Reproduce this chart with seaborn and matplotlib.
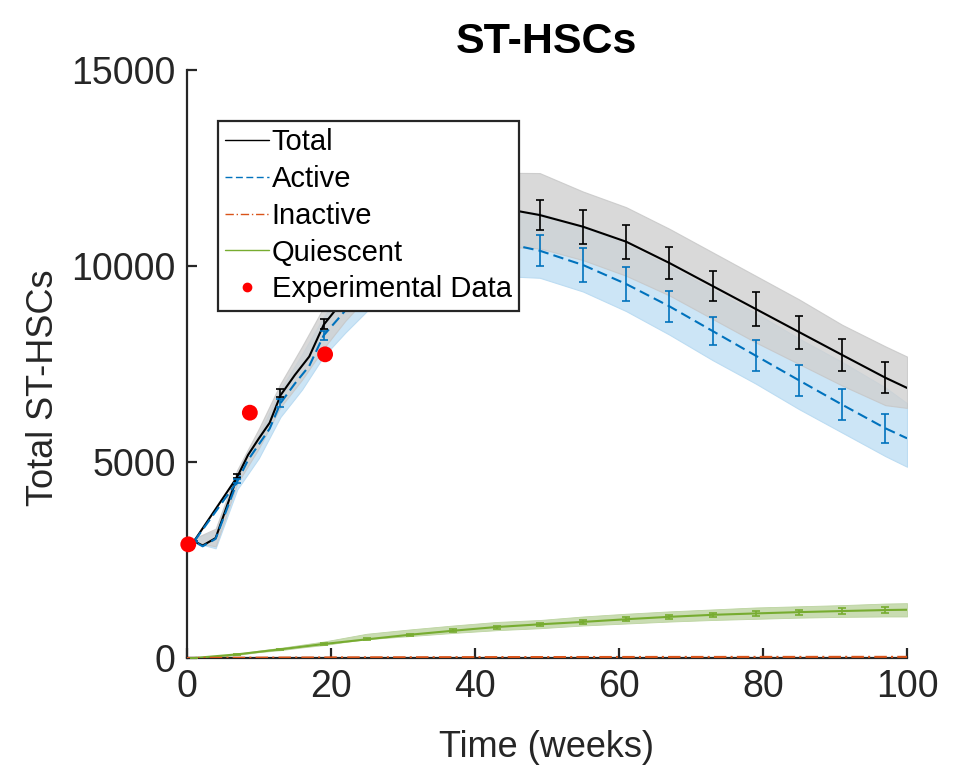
import numpy as np
import matplotlib
matplotlib.use("Agg")
import matplotlib.pyplot as plt
import seaborn as sns
from matplotlib.lines import Line2D

# mean trajectories (the first points trace the little loop at the start)
t_mean = [7, 1, 2.2, 4, 7, 8.5, 10, 11.5, 13, 15, 17, 19, 21, 25, 31, 37, 43, 46,
          49, 55, 61, 67, 73, 79, 85, 91, 97, 100]
total_mean = [4620, 2980, 2870, 3060, 4620, 5180, 5600, 6000, 6700, 7220, 7690, 8500,
              8960, 9900, 10750, 11200, 11420, 11400, 11300, 11003, 10620, 10077,
              9490, 8903, 8316, 7730, 7150, 6890]
active_mean = [4500, 2970, 2850, 3040, 4500, 5050, 5450, 5850, 6500, 7000, 7450, 8230,
               8650, 9500, 10150, 10500, 10580, 10510, 10390, 10026, 9541, 8972,
               8342, 7712, 7084, 6462, 5860, 5605]

# smooth curves for the small compartments
t_small = [0, 1, 7, 13, 19, 25, 31, 37, 43, 49, 55, 61, 67, 73, 79, 85, 91, 97, 100]
quiescent_mean = [0, 0, 94, 222, 357, 477, 595, 697, 791, 860, 921, 990, 1051, 1102,
                  1138, 1171, 1199, 1224, 1232]
inactive_mean = [0, 2, 8, 12, 15, 18, 20, 22, 24, 25, 26, 27, 28, 28, 29, 29, 30, 30, 30]

# spread of the simulated runs
t_band = [1, 4, 7, 10, 13, 16, 19, 22, 25, 31, 37, 43, 49, 55, 61, 67, 73, 79, 85,
          91, 97, 100]
total_upper = [3050, 3300, 4800, 5850, 7000, 7950, 8950, 9900, 10700, 11700, 12200,
               12380, 12370, 11900, 11500, 10950, 10350, 9750, 9150, 8500, 7950, 7690]
total_lower = [2950, 2850, 4450, 5350, 6400, 7100, 7900, 8600, 9200, 9900, 10300,
               10500, 10450, 10150, 9750, 9250, 8650, 8050, 7500, 6950, 6450, 6380]
active_upper = [3050, 3250, 4700, 5700, 6850, 7750, 8700, 9500, 10300, 11100, 11400,
                11450, 11350, 11000, 10550, 10000, 9400, 8800, 8150, 7550, 6900, 6500]
active_lower = [2950, 2800, 4300, 5100, 6150, 6850, 7700, 8300, 8850, 9350, 9650,
                9750, 9700, 9350, 8850, 8250, 7600, 7000, 6350, 5750, 5150, 4880]
quiescent_upper = [0, 45, 110, 190, 260, 340, 420, 520, 620, 730, 830, 920, 970, 1060,
                   1130, 1190, 1240, 1290, 1320, 1350, 1390, 1400]
quiescent_lower = [0, 25, 80, 150, 200, 270, 330, 410, 480, 560, 640, 710, 760, 830,
                   880, 930, 970, 1000, 1030, 1050, 1060, 1060]

# error bars every 6 weeks
t_err = [1, 7, 13, 19, 25, 31, 37, 43, 49, 55, 61, 67, 73, 79, 85, 91, 97]
total_err = [2980, 4640, 6760, 8530, 9900, 10750, 11200, 11420, 11300, 11003, 10620,
             10077, 9490, 8903, 8316, 7730, 7150]
total_sd = [15, 60, 100, 130, 200, 260, 320, 370, 391, 438, 434, 417, 387, 421, 421,
            417, 395]
active_err = [2970, 4520, 6505, 8230, 9500, 10150, 10500, 10580, 10390, 10026, 9541,
              8972, 8342, 7712, 7084, 6462, 5860]
active_sd = [15, 55, 110, 120, 200, 260, 320, 370, 391, 430, 425, 400, 366, 391, 400,
             391, 366]
quiescent_err = [0, 94, 222, 357, 477, 595, 697, 791, 860, 921, 990, 1051, 1102, 1138,
                 1171, 1199, 1224]
quiescent_sd = [0, 10, 15, 20, 25, 30, 35, 38, 40, 45, 50, 55, 58, 60, 62, 65, 69]

# experimental data
t_exp = [0.2, 8.75, 19.2]
exp_vals = [2900, 6258, 7747]

c_total = "black"
c_active = "#0072BD"
c_inactive = "#D95319"
c_quiescent = "#77AC30"

sns.set_style("ticks")
plt.rcParams["font.family"] = ["Liberation Sans", "DejaVu Sans"]

fig = plt.figure(figsize=(9.68, 7.69), dpi=100)
ax = fig.add_axes([0.193, 0.1443, 0.744, 0.7647])

# run spreads
ax.fill_between(t_band, active_lower, active_upper, color="#cce5f6", lw=0.8,
                edgecolor="#bcdcf2", zorder=1)
ax.fill_between(t_band, total_lower, total_upper, color="#d0d0d0", alpha=0.8, lw=0.8,
                edgecolor="#c6c6c6", zorder=2)
ax.fill_between(t_band, quiescent_lower, quiescent_upper, color="#c9dcb2", lw=0.6,
                edgecolor="#bcd4a0", zorder=1)

# means
sns.lineplot(x=t_mean, y=total_mean, sort=False, estimator=None, color=c_total,
             lw=1.5, ax=ax, zorder=5)
sns.lineplot(x=t_mean, y=active_mean, sort=False, estimator=None, color=c_active,
             lw=1.5, ax=ax, zorder=5)
ax.lines[-1].set_dashes((5, 2.5))
sns.lineplot(x=t_small, y=quiescent_mean, sort=False, estimator=None,
             color=c_quiescent, lw=1.5, ax=ax, zorder=5)
sns.lineplot(x=t_small, y=inactive_mean, sort=False, estimator=None,
             color=c_inactive, lw=1.5, ax=ax, zorder=5)
ax.lines[-1].set_dashes((6, 2, 1, 2))

# error bars
for mu, sd, col in [(total_err, total_sd, c_total), (active_err, active_sd, c_active),
                    (quiescent_err, quiescent_sd, c_quiescent)]:
    ax.errorbar(t_err, mu, yerr=sd, fmt="none", ecolor=col, elinewidth=1.2,
                capsize=3.2, capthick=1.2, zorder=6)

sns.scatterplot(x=t_exp, y=exp_vals, color="red", s=130, edgecolor="none",
                ax=ax, zorder=7, clip_on=False)

ax.set_xlim(0, 100)
ax.set_ylim(0, 15000)
ax.set_xticks([0, 20, 40, 60, 80, 100])
ax.set_yticks([0, 5000, 10000, 15000])
sns.despine(ax=ax)
for s in ["left", "bottom"]:
    ax.spines[s].set_linewidth(1.6)
    ax.spines[s].set_color("#262626")
ax.tick_params(direction="in", length=7, width=1.6, labelsize=27,
               labelcolor="#262626", color="#262626", pad=8)

ax.set_title("ST-HSCs", fontsize=31, fontweight="bold", pad=12, color="black")
ax.set_xlabel("Time (weeks)", fontsize=26, color="#262626")
ax.set_ylabel("Total ST-HSCs", fontsize=26, color="#262626")
ax.xaxis.set_label_coords(0.499, -0.122)
ax.yaxis.set_label_coords(-0.175, 0.46)

handles = [
    Line2D([], [], color=c_total, lw=1),
    Line2D([], [], color=c_active, lw=1, dashes=(5, 2.5)),
    Line2D([], [], color=c_inactive, lw=1, dashes=(6, 2, 1, 2)),
    Line2D([], [], color=c_quiescent, lw=1),
    Line2D([], [], color="red", lw=0, marker="o", ms=6),
]
labels = ["Total", "Active", "Inactive", "Quiescent", "Experimental Data"]
leg = ax.legend(handles, labels, loc="upper left", bbox_to_anchor=(0.043, 0.913),
                borderaxespad=0, fontsize=21, frameon=True, fancybox=False,
                framealpha=1, edgecolor="#262626", handlelength=1.5,
                handletextpad=0.1, borderpad=0.25, labelspacing=0.3,
                labelcolor="black")
leg.get_frame().set_linewidth(1.6)
leg.set_zorder(10)

fig.savefig("out.png", dpi=100)
